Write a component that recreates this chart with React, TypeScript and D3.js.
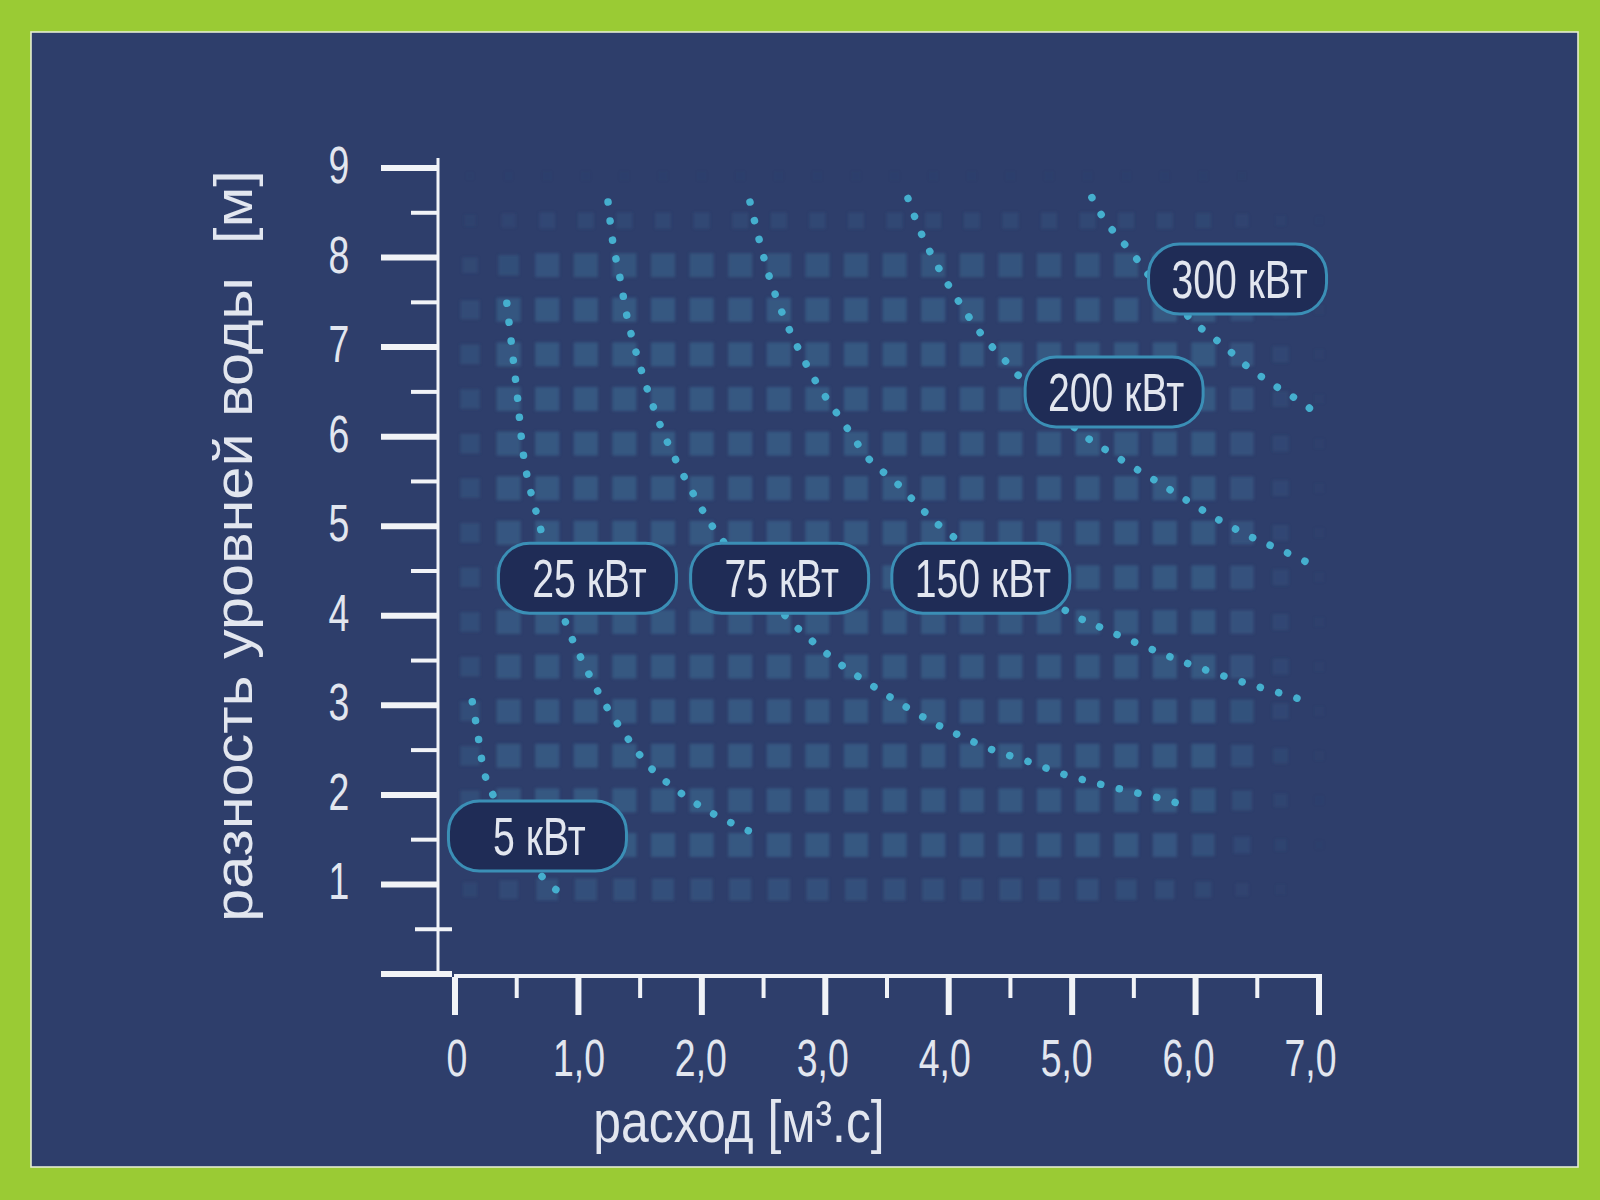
import React from 'react';
import * as d3 from 'd3';

// ---- data ----
const xTickValues = [0, 1, 2, 3, 4, 5, 6, 7];
const xTickLabels = ['0', '1,0', '2,0', '3,0', '4,0', '5,0', '6,0', '7,0'];
const xMinorValues = [0.5, 1.5, 2.5, 3.5, 4.5, 5.5, 6.5];
const yTickValues = [0, 1, 2, 3, 4, 5, 6, 7, 8, 9];
const yTickLabels = ['', '1', '2', '3', '4', '5', '6', '7', '8', '9'];
const yMinorValues = [0.5, 1.5, 2.5, 3.5, 4.5, 5.5, 6.5, 7.5, 8.5];

const xTitle = 'расход [м³.с]';
const yTitle = 'разность уровней воды\u00a0\u00a0[м]';

// [flow m3/s, head m]
const curve5kW: [number, number][] = [
  [0.14, 3.04], [0.18, 2.72], [0.23, 2.3], [0.28, 2.08], [0.74, 1.03], [0.87, 0.9],
];
const curve25kW: [number, number][] = [
  [0.42, 7.49], [0.5, 6.52], [0.57, 5.66], [0.69, 4.99], [0.89, 3.95], [1.07, 3.39],
  [1.23, 2.98], [1.39, 2.65], [1.58, 2.31], [1.8, 2.05], [2.04, 1.83], [2.28, 1.66], [2.41, 1.58],
];
const curve75kW: [number, number][] = [
  [1.24, 8.62], [1.28, 8.16], [1.34, 7.75], [1.4, 7.3], [1.48, 6.88], [1.58, 6.44],
  [1.68, 6.07], [1.81, 5.68], [1.96, 5.29], [2.12, 4.93], [2.69, 3.98], [2.9, 3.71],
  [3.13, 3.45], [3.37, 3.23], [3.61, 3.02], [3.87, 2.81], [4.11, 2.65], [4.36, 2.5],
  [4.65, 2.37], [4.91, 2.24], [5.17, 2.14], [5.44, 2.05], [5.72, 1.96], [5.85, 1.91],
];
const curve150kW: [number, number][] = [
  [2.39, 8.62], [2.47, 8.17], [2.55, 7.77], [2.66, 7.35], [2.79, 6.96], [2.93, 6.6],
  [3.18, 6.09], [3.36, 5.74], [3.58, 5.48], [3.79, 5.18], [4.02, 4.9], [4.97, 4.04],
  [5.23, 3.87], [5.5, 3.71], [5.76, 3.56], [6.01, 3.43], [6.29, 3.3], [6.55, 3.19],
  [6.82, 3.08], [6.96, 3.0],
];
const curve200kW: [number, number][] = [
  [3.67, 8.66], [3.79, 8.23], [3.94, 7.83], [4.09, 7.49], [4.25, 7.17], [4.36, 6.99],
  [4.47, 6.83], [4.56, 6.69], [5.09, 6.02], [5.22, 5.9], [5.47, 5.68], [5.71, 5.48],
  [5.95, 5.27], [6.19, 5.07], [6.45, 4.88], [6.7, 4.73], [6.96, 4.56],
];
const curve300kW: [number, number][] = [
  [5.16, 8.67], [5.24, 8.47], [5.33, 8.3], [5.43, 8.14], [5.52, 7.99], [5.61, 7.82],
  [6.02, 7.24], [6.14, 7.11], [6.25, 6.99], [6.36, 6.85], [6.48, 6.72], [6.6, 6.61],
  [6.72, 6.5], [6.83, 6.41], [6.95, 6.29],
];
const curves = [curve5kW, curve25kW, curve75kW, curve150kW, curve200kW, curve300kW];

const labelTexts = ['5 кВт', '25 кВт', '75 кВт', '150 кВт', '200 кВт', '300 кВт'];
const labelFlows = [0.668, 1.073, 2.63, 4.26, 5.34, 6.34];
const labelHeads = [1.54, 4.42, 4.42, 4.42, 6.5, 7.76];

// ---- layout ----
const W = 1600;
const H = 1200;
const x = d3.scaleLinear().domain([0, 7]).range([455, 1319]);
const y = d3.scaleLinear().domain([0, 9]).range([974, 168]);

const FONT = '"Liberation Sans", Arial, Helvetica, sans-serif';
const TEXT = '#e2e6ef';
const AXIS = '#f1f3f7';
const DOT = '#45afce';

const smooth = (a: number, b: number, v: number) => {
  const t = Math.max(0, Math.min(1, (v - a) / (b - a)));
  return t * t * (3 - 2 * t);
};

const gridCols = d3.range(23).map((i) => 470 + 38.6 * i);
const gridRows = d3.range(17).map((j) => 176 + 44.6 * j);

function CText(props: {
  x: number; y: number; sx: number; size: number; anchor?: string; children: React.ReactNode; rotate?: number;
}) {
  const { x: tx, y: ty, sx, size, anchor = 'middle', children, rotate = 0 } = props;
  return (
    <text
      transform={`translate(${tx},${ty}) rotate(${rotate}) scale(${sx},1)`}
      textAnchor={anchor}
      fontFamily={FONT}
      fontSize={size}
      fill={TEXT}
    >
      {children}
    </text>
  );
}

export default function App() {
  const line = d3
    .line<[number, number]>()
    .x((d) => x(d[0]))
    .y((d) => y(d[1]))
    .curve(d3.curveCatmullRom.alpha(0.5));

  const squares: { cx: number; cy: number; k: number }[] = [];
  gridCols.forEach((cx) =>
    gridRows.forEach((cy) => {
      const k =
        smooth(150, 340, cy) *
        (0.35 + 0.65 * smooth(440, 560, cx)) *
        smooth(1350, 1160, cx) *
        (0.45 + 0.55 * smooth(915, 820, cy)) *
        (1 - 0.55 * smooth(1050, 1320, cx) * smooth(700, 890, cy));
      if (k > 0.02) squares.push({ cx, cy, k });
    })
  );

  return (
    <svg
      width={W}
      height={H}
      viewBox={`0 0 ${W} ${H}`}
      style={{ position: 'absolute', left: 0, top: 0, display: 'block' }}
    >
      <defs>
        <filter id="soft" x="-10%" y="-10%" width="120%" height="120%">
          <feGaussianBlur stdDeviation="1.6" />
        </filter>
        <filter id="glow" x="-10%" y="-10%" width="120%" height="120%">
          <feGaussianBlur stdDeviation="0.6" />
        </filter>
      </defs>
      <rect x={0} y={0} width={W} height={H} fill="#9acb34" />
      <rect x={31} y={32} width={1547} height={1135} fill="#2e3e6b" stroke="#e4ecd0" strokeWidth={1.6} />

      {/* background square pattern */}
      <g filter="url(#soft)">
        {squares.map((s, i) => {
          const sz = 8 + 16 * Math.min(1, s.k * 1.6);
          return (
            <rect
              key={i}
              x={s.cx - sz / 2}
              y={s.cy - sz / 2}
              width={sz}
              height={sz}
              fill="#3b6790"
              opacity={0.62 * Math.min(1, s.k * 1.3)}
            />
          );
        })}
      </g>

      {/* dotted power curves */}
      <g
        fill="none"
        stroke={DOT}
        strokeWidth={7.5}
        strokeLinecap="round"
        strokeDasharray="0.1 19"
        filter="url(#glow)"
      >
        {curves.map((c, i) => (
          <path key={i} d={line(c) || ''} />
        ))}
      </g>

      {/* labels */}
      {labelTexts.map((t, i) => {
        const cx = x(labelFlows[i]);
        const cy = y(labelHeads[i]);
        return (
          <g key={t}>
            <rect
              x={cx - 89}
              y={cy - 35}
              width={178}
              height={70}
              rx={31}
              fill="#1f2c56"
              stroke="#3b8fb6"
              strokeWidth={3}
            />
            <CText x={cx + 2} y={cy + 19} sx={0.74} size={53}>
              {t}
            </CText>
          </g>
        );
      })}

      {/* y axis */}
      <g stroke={AXIS}>
        <line x1={438} x2={438} y1={158} y2={976} strokeWidth={3} />
        {yTickValues.map((v) => (
          <line key={v} x1={381} x2={v === 0 ? 452 : 438} y1={y(v)} y2={y(v)} strokeWidth={6} />
        ))}
        {yMinorValues.map((v) => (
          <line
            key={v}
            x1={v === 0.5 ? 415 : 411}
            x2={v === 0.5 ? 452 : 438}
            y1={y(v)}
            y2={y(v)}
            strokeWidth={4}
          />
        ))}
      </g>
      {yTickValues.map((v, i) =>
        yTickLabels[i] ? (
          <CText key={v} x={339} y={y(v) + 15} sx={0.72} size={52}>
            {yTickLabels[i]}
          </CText>
        ) : null
      )}

      {/* x axis */}
      <g stroke={AXIS}>
        <line x1={454} x2={1322} y1={976} y2={976} strokeWidth={4} />
        {xTickValues.map((v) => (
          <line key={v} x1={x(v)} x2={x(v)} y1={977} y2={1015} strokeWidth={6} />
        ))}
        {xMinorValues.map((v) => (
          <line key={v} x1={x(v)} x2={x(v)} y1={977} y2={998} strokeWidth={4} />
        ))}
      </g>
      {xTickValues.map((v, i) => (
        <CText key={v} x={x(v) + 2 - v * 1.5} y={1076} sx={0.72} size={52}>
          {xTickLabels[i]}
        </CText>
      ))}

      {/* axis titles */}
      <CText x={739} y={1142} sx={0.83} size={60}>
        {xTitle}
      </CText>
      <CText x={252} y={546} sx={1.1} size={54} rotate={-90}>
        {yTitle}
      </CText>
    </svg>
  );
}
